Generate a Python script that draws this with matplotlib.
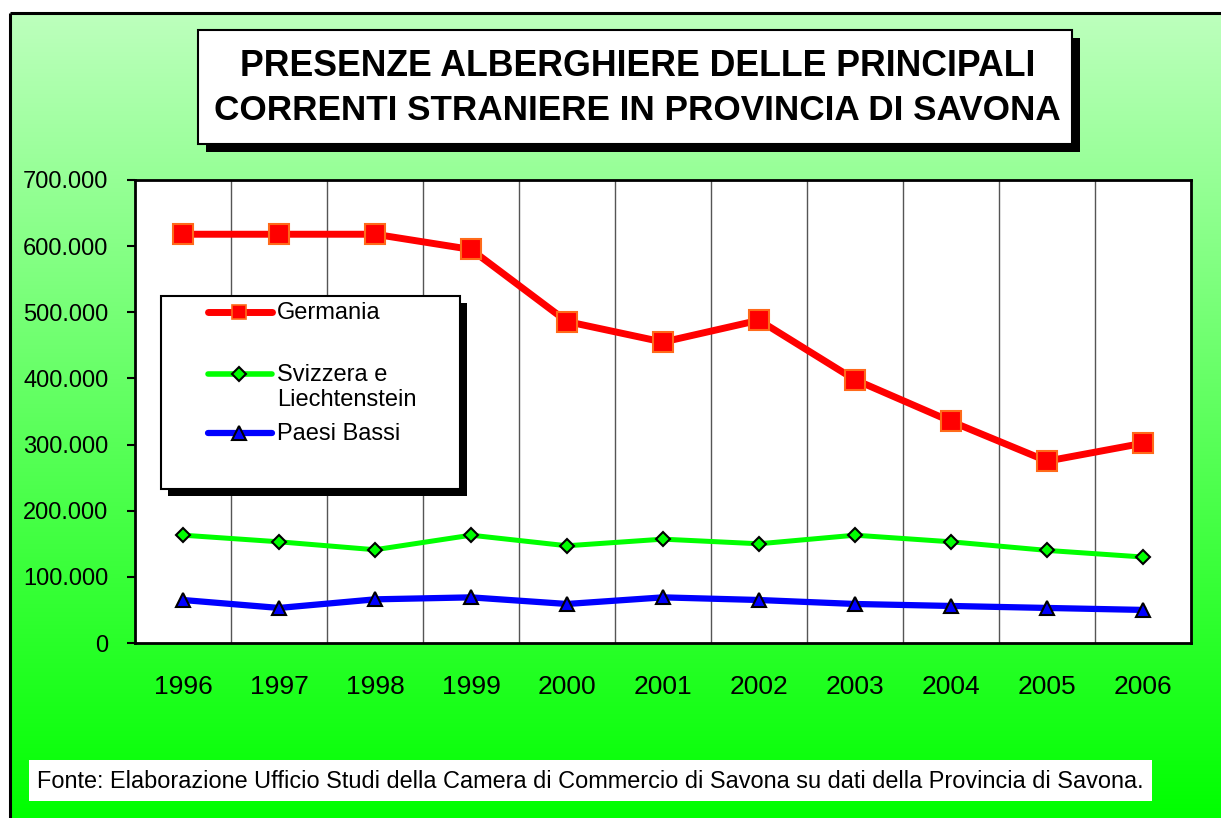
import matplotlib
matplotlib.use("Agg")
import matplotlib.pyplot as plt
import numpy as np
from matplotlib.patches import Rectangle
from matplotlib.lines import Line2D
from matplotlib.ticker import FuncFormatter, MultipleLocator

plt.rcParams['font.family'] = ['Liberation Sans', 'DejaVu Sans']

# presenze alberghiere per nazionalita'
anni = ['1996', '1997', '1998', '1999', '2000', '2001', '2002', '2003', '2004', '2005', '2006']
germania = [618000, 618000, 618000, 595000, 486000, 455000, 488000, 398000, 335000, 275000, 302000]
svizzera = [163000, 153000, 141000, 163000, 147000, 157000, 150000, 163000, 153000, 140000, 130000]
paesi_bassi = [65000, 53000, 66000, 69000, 59000, 69000, 65000, 59000, 56000, 53000, 50000]

W, H = 1221, 818
fig = plt.figure(figsize=(W / 100, H / 100), dpi=100)

# sfondo sfumato verde con cornice
bg = fig.add_axes([0, 0, 1, 1], zorder=-1)
bg.set_xlim(0, W)
bg.set_ylim(H, 0)
bg.axis('off')
grad = np.linspace(0, 1, 256).reshape(-1, 1)
top_c = np.array([0.74, 1.0, 0.74])
bot_c = np.array([0.0, 1.0, 0.0])
img = top_c + (bot_c - top_c) * grad[..., None]
img = img.reshape(256, 1, 3)
bg.imshow(img, extent=(10, W, H, 13), aspect='auto', interpolation='bilinear')
bg.plot([10, W], [13, 13], color='black', lw=2.2, solid_capstyle='butt')
bg.plot([10, 10], [13, H], color='black', lw=2.2, solid_capstyle='butt')

# grafico
ax = fig.add_axes([135 / W, 1 - 643 / H, (1191 - 135) / W, (643 - 180) / H], zorder=1)
x = np.arange(len(anni))
ax.plot(x, germania, color='#ff0000', lw=5, marker='s', ms=14,
        mfc='#ff0000', mec='#ff6a1a', mew=1.5, zorder=5)
ax.plot(x, svizzera, color='#00ff00', lw=3.6, marker='D', ms=7.5,
        mfc='#00ff00', mec='black', mew=1.5, zorder=4)
ax.plot(x, paesi_bassi, color='#0000ff', lw=4.5, marker='^', ms=10.5,
        mfc='#0000ff', mec='black', mew=1.5, zorder=4)

ax.set_xlim(-0.5, len(anni) - 0.5)
ax.set_ylim(0, 700000)
for b in np.arange(0.5, len(anni) - 1, 1):
    ax.axvline(b, color='#555555', lw=1, zorder=1)
ax.set_xticks(x)
ax.set_xticklabels(anni, fontsize=19)
ax.tick_params(axis='x', length=0, pad=23)
ax.yaxis.set_major_locator(MultipleLocator(100000))
ax.yaxis.set_major_formatter(FuncFormatter(lambda v, p: f"{int(v):,}".replace(",", ".")))
ax.tick_params(axis='y', labelsize=17, length=6, width=1.5, pad=13, direction='out')
for s in ax.spines.values():
    s.set_linewidth(2)
    s.set_color('black')

# titolo, legenda e fonte sopra il grafico
ov = fig.add_axes([0, 0, 1, 1], zorder=3)
ov.set_xlim(0, W)
ov.set_ylim(H, 0)
ov.axis('off')
ov.patch.set_alpha(0)

ov.add_patch(Rectangle((206, 38), 874, 114, facecolor='black', edgecolor='none'))
ov.add_patch(Rectangle((198, 30), 874, 114, facecolor='white', edgecolor='black', lw=1.5))
ov.text(638, 67, 'PRESENZE ALBERGHIERE DELLE PRINCIPALI', ha='center', va='center',
        fontsize=25.7, fontweight='bold')
ov.text(637, 111, 'CORRENTI STRANIERE IN PROVINCIA DI SAVONA', ha='center', va='center',
        fontsize=25.3, fontweight='bold')

ov.add_patch(Rectangle((168, 303), 299, 193, facecolor='black', edgecolor='none'))
ov.add_patch(Rectangle((161, 296), 299, 193, facecolor='white', edgecolor='black', lw=1.5))
voci = [
    ('Germania', 312, dict(color='#ff0000', lw=5, marker='s', ms=10, mfc='#ff0000', mec='#ff6a1a', mew=1.2)),
    ('Svizzera e\nLiechtenstein', 374, dict(color='#00ff00', lw=4, marker='D', ms=7, mfc='#00ff00', mec='black', mew=1.5)),
    ('Paesi Bassi', 433, dict(color='#0000ff', lw=4.5, marker='^', ms=10, mfc='#0000ff', mec='black', mew=1.5)),
]
for testo, yy, st in voci:
    ov.add_line(Line2D([208, 272], [yy, yy], solid_capstyle='round', markevery=[], **st))
    ov.add_line(Line2D([239], [yy], ls='none', **{k: v for k, v in st.items() if k not in ('lw', 'color')}))
    ov.text(277, yy - 10, testo, ha='left', va='top', fontsize=17, linespacing=1.15)

ov.add_patch(Rectangle((29, 760), 1123, 41, facecolor='white', edgecolor='none'))
ov.text(37, 781, 'Fonte: Elaborazione Ufficio Studi della Camera di Commercio di Savona su dati della Provincia di Savona.',
        ha='left', va='center', fontsize=16.9)

fig.savefig('out.png', dpi=100)
